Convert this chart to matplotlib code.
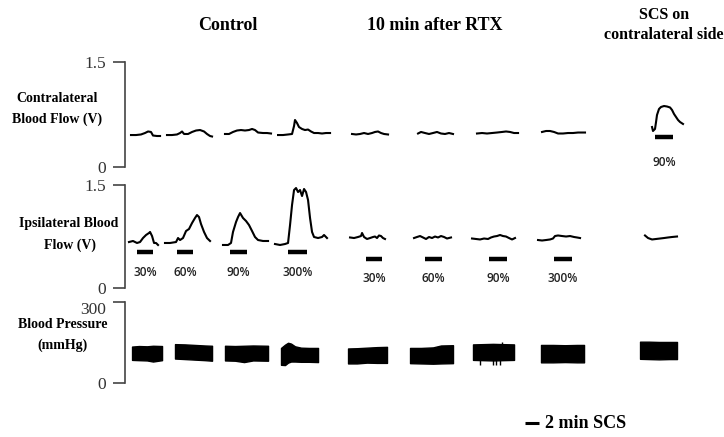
import numpy as np
import matplotlib.pyplot as plt

# shared recording timeline in minutes; flows in V, pressure in mmHg
phase_titles = ['Control', '10 min after RTX', 'SCS on\ncontralateral side']
stim_labels = ['30%', '60%', '90%', '300%', '30%', '60%', '90%', '300%', '90%']
stim_start = [1.5, 6.5, 13.13, 20.38, 30.13, 37.5, 45.5, 53.63, 66.25]
stim_end = [3.5, 8.5, 15.25, 22.75, 32.13, 39.63, 47.75, 55.88, 68.5]

# contralateral blood flow (V)
contra_t = [
    [0.75, 1.38, 2.0, 2.5, 2.88, 3.25, 3.5, 4.0, 4.38],
    [5.25, 5.88, 6.5, 6.88, 7.13, 7.38, 7.88, 8.38, 8.88, 9.38, 9.88, 10.25, 10.63, 10.88],
    [12.5, 13.0, 13.5, 14.0, 14.5, 15.0, 15.5, 15.88, 16.25, 16.63, 17.25, 17.75, 18.25],
    [19.13, 19.75, 20.38, 20.88, 21.13, 21.25, 21.5, 21.75, 22.13, 22.5, 22.88, 23.25, 23.63,
     24.13, 24.63, 25.13, 25.63],
    [28.38, 28.88, 29.38, 29.88, 30.38, 30.88, 31.25, 31.63, 32.0, 32.38, 32.88],
    [36.63, 37.0, 37.5, 38.0, 38.5, 39.0, 39.5, 40.0, 40.5, 41.0],
    [44.0, 44.63, 45.25, 45.88, 46.5, 47.13, 47.63, 48.13, 48.63, 49.13],
    [52.13, 52.63, 53.13, 53.63, 54.13, 54.75, 55.38, 56.0, 56.63, 57.13, 57.5],
    [65.88, 66.0, 66.25, 66.38, 66.5, 66.75, 67.0, 67.38, 67.75, 68.13, 68.38, 68.63, 68.88,
     69.13, 69.38, 69.75],
]
contra_v = [
    [0.455, 0.455, 0.463, 0.484, 0.506, 0.499, 0.448, 0.441, 0.441],
    [0.455, 0.455, 0.463, 0.484, 0.506, 0.470, 0.470, 0.499, 0.520, 0.527, 0.506, 0.470, 0.441, 0.434],
    [0.470, 0.470, 0.499, 0.520, 0.527, 0.520, 0.527, 0.542, 0.527, 0.491, 0.484, 0.484, 0.477],
    [0.455, 0.455, 0.463, 0.470, 0.585, 0.671, 0.628, 0.570, 0.542, 0.527, 0.534, 0.506, 0.484,
     0.484, 0.477, 0.484, 0.484],
    [0.470, 0.463, 0.470, 0.484, 0.470, 0.484, 0.499, 0.506, 0.484, 0.470, 0.463],
    [0.477, 0.499, 0.484, 0.470, 0.484, 0.499, 0.477, 0.470, 0.484, 0.470],
    [0.477, 0.484, 0.477, 0.484, 0.491, 0.499, 0.506, 0.499, 0.484, 0.484],
    [0.499, 0.513, 0.513, 0.499, 0.477, 0.477, 0.484, 0.484, 0.491, 0.491, 0.491],
    [0.570, 0.513, 0.542, 0.642, 0.743, 0.829, 0.858, 0.872, 0.865, 0.851, 0.815, 0.757, 0.714,
     0.671, 0.642, 0.614],
]

# ipsilateral blood flow (V)
ipsi_t = [
    [0.5, 1.0, 1.5, 1.88, 2.25, 2.63, 3.0, 3.13, 3.38, 3.63, 3.88, 4.13],
    [5.0, 5.63, 6.38, 6.63, 6.88, 7.25, 7.63, 8.0, 8.38, 8.75, 9.0, 9.25, 9.5, 9.88, 10.25, 10.63],
    [12.25, 12.88, 13.25, 13.5, 13.88, 14.13, 14.38, 14.75, 15.13, 15.5, 15.88, 16.25, 16.63,
     17.25, 17.88],
    [18.75, 19.38, 20.0, 20.38, 20.63, 20.88, 21.13, 21.38, 21.63, 21.88, 22.13, 22.38, 22.63,
     22.88, 23.13, 23.38, 23.63, 24.13, 24.63, 24.88, 25.25],
    [28.13, 28.63, 29.13, 29.5, 29.63, 29.88, 30.25, 30.63, 31.0, 31.25, 31.5, 31.75, 32.0,
     32.25, 32.5],
    [36.13, 36.5, 36.88, 37.25, 37.63, 38.0, 38.38, 38.75, 39.13, 39.5, 39.88, 40.25, 40.75],
    [43.38, 43.88, 44.38, 44.88, 45.38, 45.75, 46.13, 46.5, 46.88, 47.25, 47.63, 48.0, 48.38, 48.75],
    [51.63, 52.13, 52.63, 53.13, 53.5, 53.75, 54.13, 54.63, 55.13, 55.63, 56.13, 56.5, 56.88],
    [65.0, 65.38, 65.88, 66.38, 66.88, 67.38, 67.88, 68.38, 69.0],
]
ipsi_v = [
    [0.672, 0.687, 0.658, 0.672, 0.730, 0.774, 0.803, 0.818, 0.759, 0.658, 0.658, 0.629],
    [0.658, 0.658, 0.672, 0.730, 0.701, 0.730, 0.832, 0.861, 0.948, 1.021, 1.064, 1.035, 0.934,
     0.818, 0.730, 0.687],
    [0.629, 0.629, 0.658, 0.818, 0.963, 1.035, 1.093, 1.021, 0.977, 0.919, 0.832, 0.745, 0.701,
     0.687, 0.687],
    [0.643, 0.629, 0.643, 0.658, 0.919, 1.210, 1.427, 1.456, 1.398, 1.427, 1.340, 1.442, 1.398,
     1.282, 1.021, 0.818, 0.745, 0.730, 0.745, 0.774, 0.730],
    [0.738, 0.730, 0.745, 0.759, 0.803, 0.745, 0.716, 0.730, 0.745, 0.752, 0.730, 0.767, 0.759,
     0.730, 0.716],
    [0.730, 0.745, 0.759, 0.738, 0.716, 0.745, 0.730, 0.752, 0.738, 0.759, 0.745, 0.723, 0.738],
    [0.723, 0.716, 0.709, 0.723, 0.716, 0.738, 0.752, 0.759, 0.774, 0.759, 0.752, 0.730, 0.709, 0.730],
    [0.701, 0.694, 0.701, 0.709, 0.723, 0.759, 0.767, 0.759, 0.752, 0.759, 0.745, 0.738, 0.730],
    [0.767, 0.730, 0.709, 0.716, 0.723, 0.730, 0.738, 0.745, 0.752],
]

# blood pressure envelope (systolic / diastolic, mmHg)
bp_t = [
    [0.88, 1.75, 2.75, 3.5, 4.63],
    [6.25, 7.5, 8.75, 10.0, 10.88],
    [12.5, 13.75, 14.88, 16.0, 17.88],
    [19.5, 20.0, 20.38, 20.75, 21.25, 22.0, 23.0, 24.13],
    [27.88, 29.0, 30.25, 31.5, 32.75],
    [35.63, 37.0, 38.5, 39.5, 41.0],
    [43.5, 44.75, 46.0, 47.25, 48.63],
    [52.0, 53.5, 55.0, 56.5, 57.38],
    [64.38, 65.5, 66.75, 68.0, 69.0],
]
bp_sys = [
    [135, 137, 136, 138, 137],
    [144, 143, 141, 139, 138],
    [138, 137, 138, 139, 138],
    [130, 142, 149, 146, 136, 131, 130, 130],
    [128, 129, 131, 133, 134],
    [130, 130, 132, 139, 140],
    [143, 144, 145, 144, 143],
    [141, 141, 140, 141, 141],
    [153, 153, 152, 152, 152],
]
bp_dia = [
    [86, 85, 84, 80, 85],
    [91, 89, 87, 85, 83],
    [84, 83, 78, 84, 83],
    [68, 67, 76, 80, 80, 79, 79, 78],
    [73, 73, 76, 75, 75],
    [74, 73, 72, 73, 74],
    [86, 85, 84, 85, 86],
    [77, 77, 78, 77, 77],
    [90, 89, 88, 89, 89],
]
bp_spike_t = [44.38, 46.0, 46.38, 46.88, 47.13]
bp_spike_val = [67, 66, 68, 67, 153]

serif = 'Liberation Serif'
W, H = 724, 437

fig = plt.figure(figsize=(W / 100, H / 100), dpi=100)


def panel(y_zero, y_top, top_val, label_top):
    ax = fig.add_axes([125 / W, (H - y_zero) / H, 599 / W, (y_zero - y_top) / H])
    ax.set_xlim(0, 599 / 8)
    ax.set_ylim(0, top_val)
    for s in ['top', 'right', 'bottom']:
        ax.spines[s].set_visible(False)
    ax.spines['left'].set_linewidth(1.2)
    ax.spines['left'].set_color('#444444')
    ax.set_xticks([])
    ax.set_yticks([0, top_val])
    ax.set_yticklabels(['0', label_top], fontfamily=serif, fontsize=12.5, color='#333333')
    ax.tick_params(axis='y', direction='out', length=8.5, width=1.2, color='#444444', pad=5)
    ax.patch.set_alpha(0)
    return ax


ax_c = panel(166.7, 62.3, 1.5, '1.5')
ax_i = panel(288.3, 185.0, 1.5, '1.5')
ax_b = panel(383.3, 301.7, 300, '300')
# the "300" label sits a little below its tick in the original
ax_b.get_yticklabels()[1].set_verticalalignment('top')

for t, v in zip(contra_t, contra_v):
    ax_c.plot(t, v, color='black', lw=1.5, solid_joinstyle='round')
for t, v in zip(ipsi_t, ipsi_v):
    ax_i.plot(t, v, color='black', lw=1.5, solid_joinstyle='round')
for t, hi, lo in zip(bp_t, bp_sys, bp_dia):
    ax_b.fill_between(t, lo, hi, facecolor='black', edgecolor='black', lw=1.0)
ax_b.vlines(bp_spike_t, 100, bp_spike_val, color='black', lw=1.0)

# stimulation bars and intensity labels
for k, (a, b, lab) in enumerate(zip(stim_start, stim_end, stim_labels)):
    if k < 4:
        ax, bar_y, lab_y = ax_i, 0.527, 0.227
    elif k < 8:
        ax, bar_y, lab_y = ax_i, 0.425, 0.145
    else:
        ax, bar_y, lab_y = ax_c, 0.422, 0.057
    ax.plot([a, b], [bar_y, bar_y], color='black', lw=3.2, solid_capstyle='butt')
    ax.text((a + b) / 2, lab_y, lab, ha='center', va='center', fontsize=8.5,
            fontfamily='Open Sans', fontweight='semibold', color='#222222')

# 2 min scale bar
ax_b.plot([50, 51.75], [-147, -147], color='black', lw=2.2, clip_on=False, solid_capstyle='butt')
ax_b.text(52.5, -147, '2 min SCS', ha='left', va='center', fontsize=13,
          fontfamily=serif, fontweight='bold')


def ftext(x, y, s, **kw):
    fig.text(x / W, 1 - y / H, s, fontfamily=serif, fontweight='bold', ha='center',
             va='center', **kw)


ftext(228, 25, phase_titles[0], fontsize=13)
ftext(435, 25, phase_titles[1], fontsize=13)
ftext(664, 25, phase_titles[2], fontsize=11.5, linespacing=1.3)

ftext(57, 99, 'Contralateral', fontsize=10)
ftext(57.5, 119, 'Blood Flow (V)', fontsize=10)
ftext(69, 223, 'Ipsilateral Blood', fontsize=10)
ftext(70, 245, 'Flow (V)', fontsize=10)
ftext(63, 324, 'Blood Pressure', fontsize=10)
ftext(63, 345, '(mmHg)', fontsize=10)

fig.savefig('out.png', dpi=100)
